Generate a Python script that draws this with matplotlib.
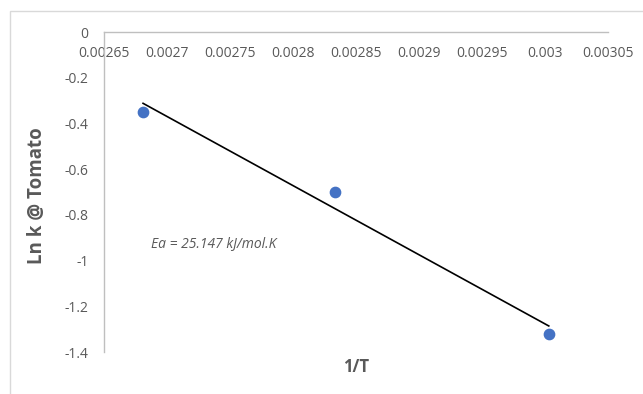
import numpy as np
import matplotlib
matplotlib.use("Agg")
import matplotlib.pyplot as plt
from matplotlib.patches import Rectangle

# data
inv_T = [0.002681, 0.002833, 0.003003]
ln_k = [-0.35, -0.70, -1.32]
x_ticks = [0.00265, 0.0027, 0.00275, 0.0028, 0.00285, 0.0029, 0.00295, 0.003, 0.00305]
x_tick_labels = ["0.00265", "0.0027", "0.00275", "0.0028", "0.00285", "0.0029", "0.00295", "0.003", "0.00305"]
y_ticks = [0, -0.2, -0.4, -0.6, -0.8, -1, -1.2, -1.4]
y_tick_labels = ["0", "-0.2", "-0.4", "-0.6", "-0.8", "-1", "-1.2", "-1.4"]
note = "Ea = 25.147 kJ/mol.K"

plt.rcParams['font.family'] = ['Open Sans', 'DejaVu Sans']
grey = '#595959'

fig = plt.figure(figsize=(6.43, 3.94), dpi=100)
# chart border (Excel style)
fig.patches.append(Rectangle((10 / 643, -0.1), 1.2, (394 - 11) / 394 + 0.1,
                             transform=fig.transFigure, fill=False,
                             edgecolor='#d9d9d9', linewidth=1.0))

ax = fig.add_axes([104 / 643, 42 / 394, 504 / 643, 320 / 394])
ax.set_xlim(0.00265, 0.00305)
ax.set_ylim(-1.4, 0)

ax.scatter(inv_T, ln_k, s=55, color='#4472C4', zorder=3)

# linear trendline
m, b = np.polyfit(inv_T, ln_k, 1)
xs = np.array([min(inv_T), max(inv_T)])
ax.plot(xs, m * xs + b, color='black', linewidth=1.2, zorder=2)

ax.spines['top'].set_visible(False)
ax.spines['right'].set_visible(False)
ax.spines['bottom'].set_position(('data', 0))
for s in ['bottom', 'left']:
    ax.spines[s].set_color('#bfbfbf')
    ax.spines[s].set_linewidth(1.0)

ax.set_xticks(x_ticks)
ax.set_xticklabels(x_tick_labels)
ax.set_yticks(y_ticks)
ax.set_yticklabels(y_tick_labels)
ax.tick_params(axis='both', length=0, labelsize=10, labelcolor=grey)
ax.tick_params(axis='x', pad=10)
ax.tick_params(axis='y', pad=11)

ax.set_ylabel("Ln k @ Tomato", fontsize=13.5, fontweight='bold', color=grey)
ax.yaxis.set_label_coords(-57 / 504, 0.49)
fig.text(356 / 643, 1 - 367 / 394, "1/T", fontsize=12, fontweight='bold',
         color=grey, ha='center', va='center')

ax.text(0.002687, -0.927, note, fontsize=10, style='italic', color=grey,
        ha='left', va='center')

fig.savefig("out.png", dpi=100)
